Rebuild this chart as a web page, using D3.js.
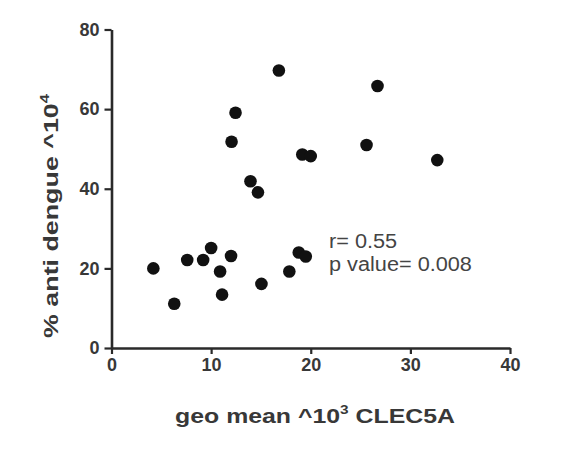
<!DOCTYPE html>
<html>
<head>
<meta charset="utf-8">
<script src="https://cdn.jsdelivr.net/npm/d3@7"></script>
<style>
  html, body { margin: 0; padding: 0; background: #fff; }
  svg text { font-family: "Liberation Sans", Arial, sans-serif; }
</style>
</head>
<body>
<svg id="chart" width="572" height="454"></svg>
<script>
// CLEC5A geometric mean (x10^3) against % anti-dengue (x10^4)
const clec5a = [16.8, 26.7, 12.45, 12.05, 19.15, 20.0, 25.6, 32.7, 13.95, 14.7,
                4.2, 6.3, 7.6, 9.2, 10.0, 10.9, 12.0, 11.1, 15.05, 17.85, 18.8, 19.5];
const antiDengue = [69.7, 65.8, 59.1, 51.8, 48.6, 48.2, 51.0, 47.2, 41.9, 39.1,
                    20.0, 11.1, 22.1, 22.1, 25.1, 19.2, 23.1, 13.4, 16.1, 19.2, 24.0, 23.0];
const xTicks = [0, 10, 20, 30, 40];
const yTicks = [0, 20, 40, 60, 80];
const stats = ["r= 0.55", "p value= 0.008"];

const svg = d3.select("#chart");
const axisColor = "#2a2a2a";
const textColor = "#383838";

const x = d3.scaleLinear().domain([0, 40]).range([111.5, 510]);
const y = d3.scaleLinear().domain([0, 80]).range([348, 29.5]);

// x axis
const gx = svg.append("g").attr("transform", `translate(0,${y(0)})`)
  .call(d3.axisBottom(x).tickValues(xTicks).tickSize(6).tickSizeOuter(0).tickPadding(4));
// y axis
const gy = svg.append("g").attr("transform", `translate(${x(0)},0)`)
  .call(d3.axisLeft(y).tickValues(yTicks).tickSize(7).tickSizeOuter(0).tickPadding(5));

[gx, gy].forEach(g => {
  g.select(".domain").attr("stroke", axisColor).attr("stroke-width", 2.6);
  g.selectAll(".tick line").attr("stroke", axisColor).attr("stroke-width", 2.2);
  g.selectAll(".tick text")
    .attr("fill", textColor)
    .style("font-size", "18px")
    .style("font-weight", "bold");
});

// scatter points
svg.append("g").selectAll("circle")
  .data(clec5a.map((v, i) => [v, antiDengue[i]]))
  .join("circle")
  .attr("cx", d => x(d[0]))
  .attr("cy", d => y(d[1]))
  .attr("r", 6.3)
  .attr("fill", "#111");

// Stretch a label horizontally (in its own frame) to a given length, centred or left-aligned
function fitWidth(textSel, target) {
  const w = textSel.node().getBBox().width;
  return target / w;
}

// correlation annotation
const statG = svg.append("g");
const statText = statG.selectAll("text")
  .data(stats)
  .join("text")
  .attr("x", 0)
  .attr("y", (d, i) => i * 23.5)
  .attr("fill", "#444")
  .style("font-size", "20px")
  .text(d => d);
const sStat = 143 / statText.filter((d, i) => i === 1).node().getBBox().width;
statG.attr("transform", `translate(329,248) scale(${sStat},1)`);

// x axis title
const xg = svg.append("g");
const xt = xg.append("text")
  .attr("text-anchor", "middle")
  .attr("fill", textColor)
  .style("font-size", "21px")
  .style("font-weight", "bold");
xt.append("tspan").text("geo mean ^10");
xt.append("tspan").attr("dy", -9).style("font-size", "13px").text("3");
xt.append("tspan").attr("dy", 9).text(" CLEC5A");
xg.attr("transform", `translate(315,423) scale(${fitWidth(xt, 280)},1)`);

// y axis title
const yg = svg.append("g");
const yt = yg.append("text")
  .attr("text-anchor", "middle")
  .attr("fill", textColor)
  .style("font-size", "21px")
  .style("font-weight", "bold");
yt.append("tspan").text("% anti dengue ^10");
yt.append("tspan").attr("dy", -9).style("font-size", "13px").text("4");
yg.attr("transform", `translate(58,216) rotate(-90) scale(${fitWidth(yt, 245)},1)`);
</script>
</body>
</html>
